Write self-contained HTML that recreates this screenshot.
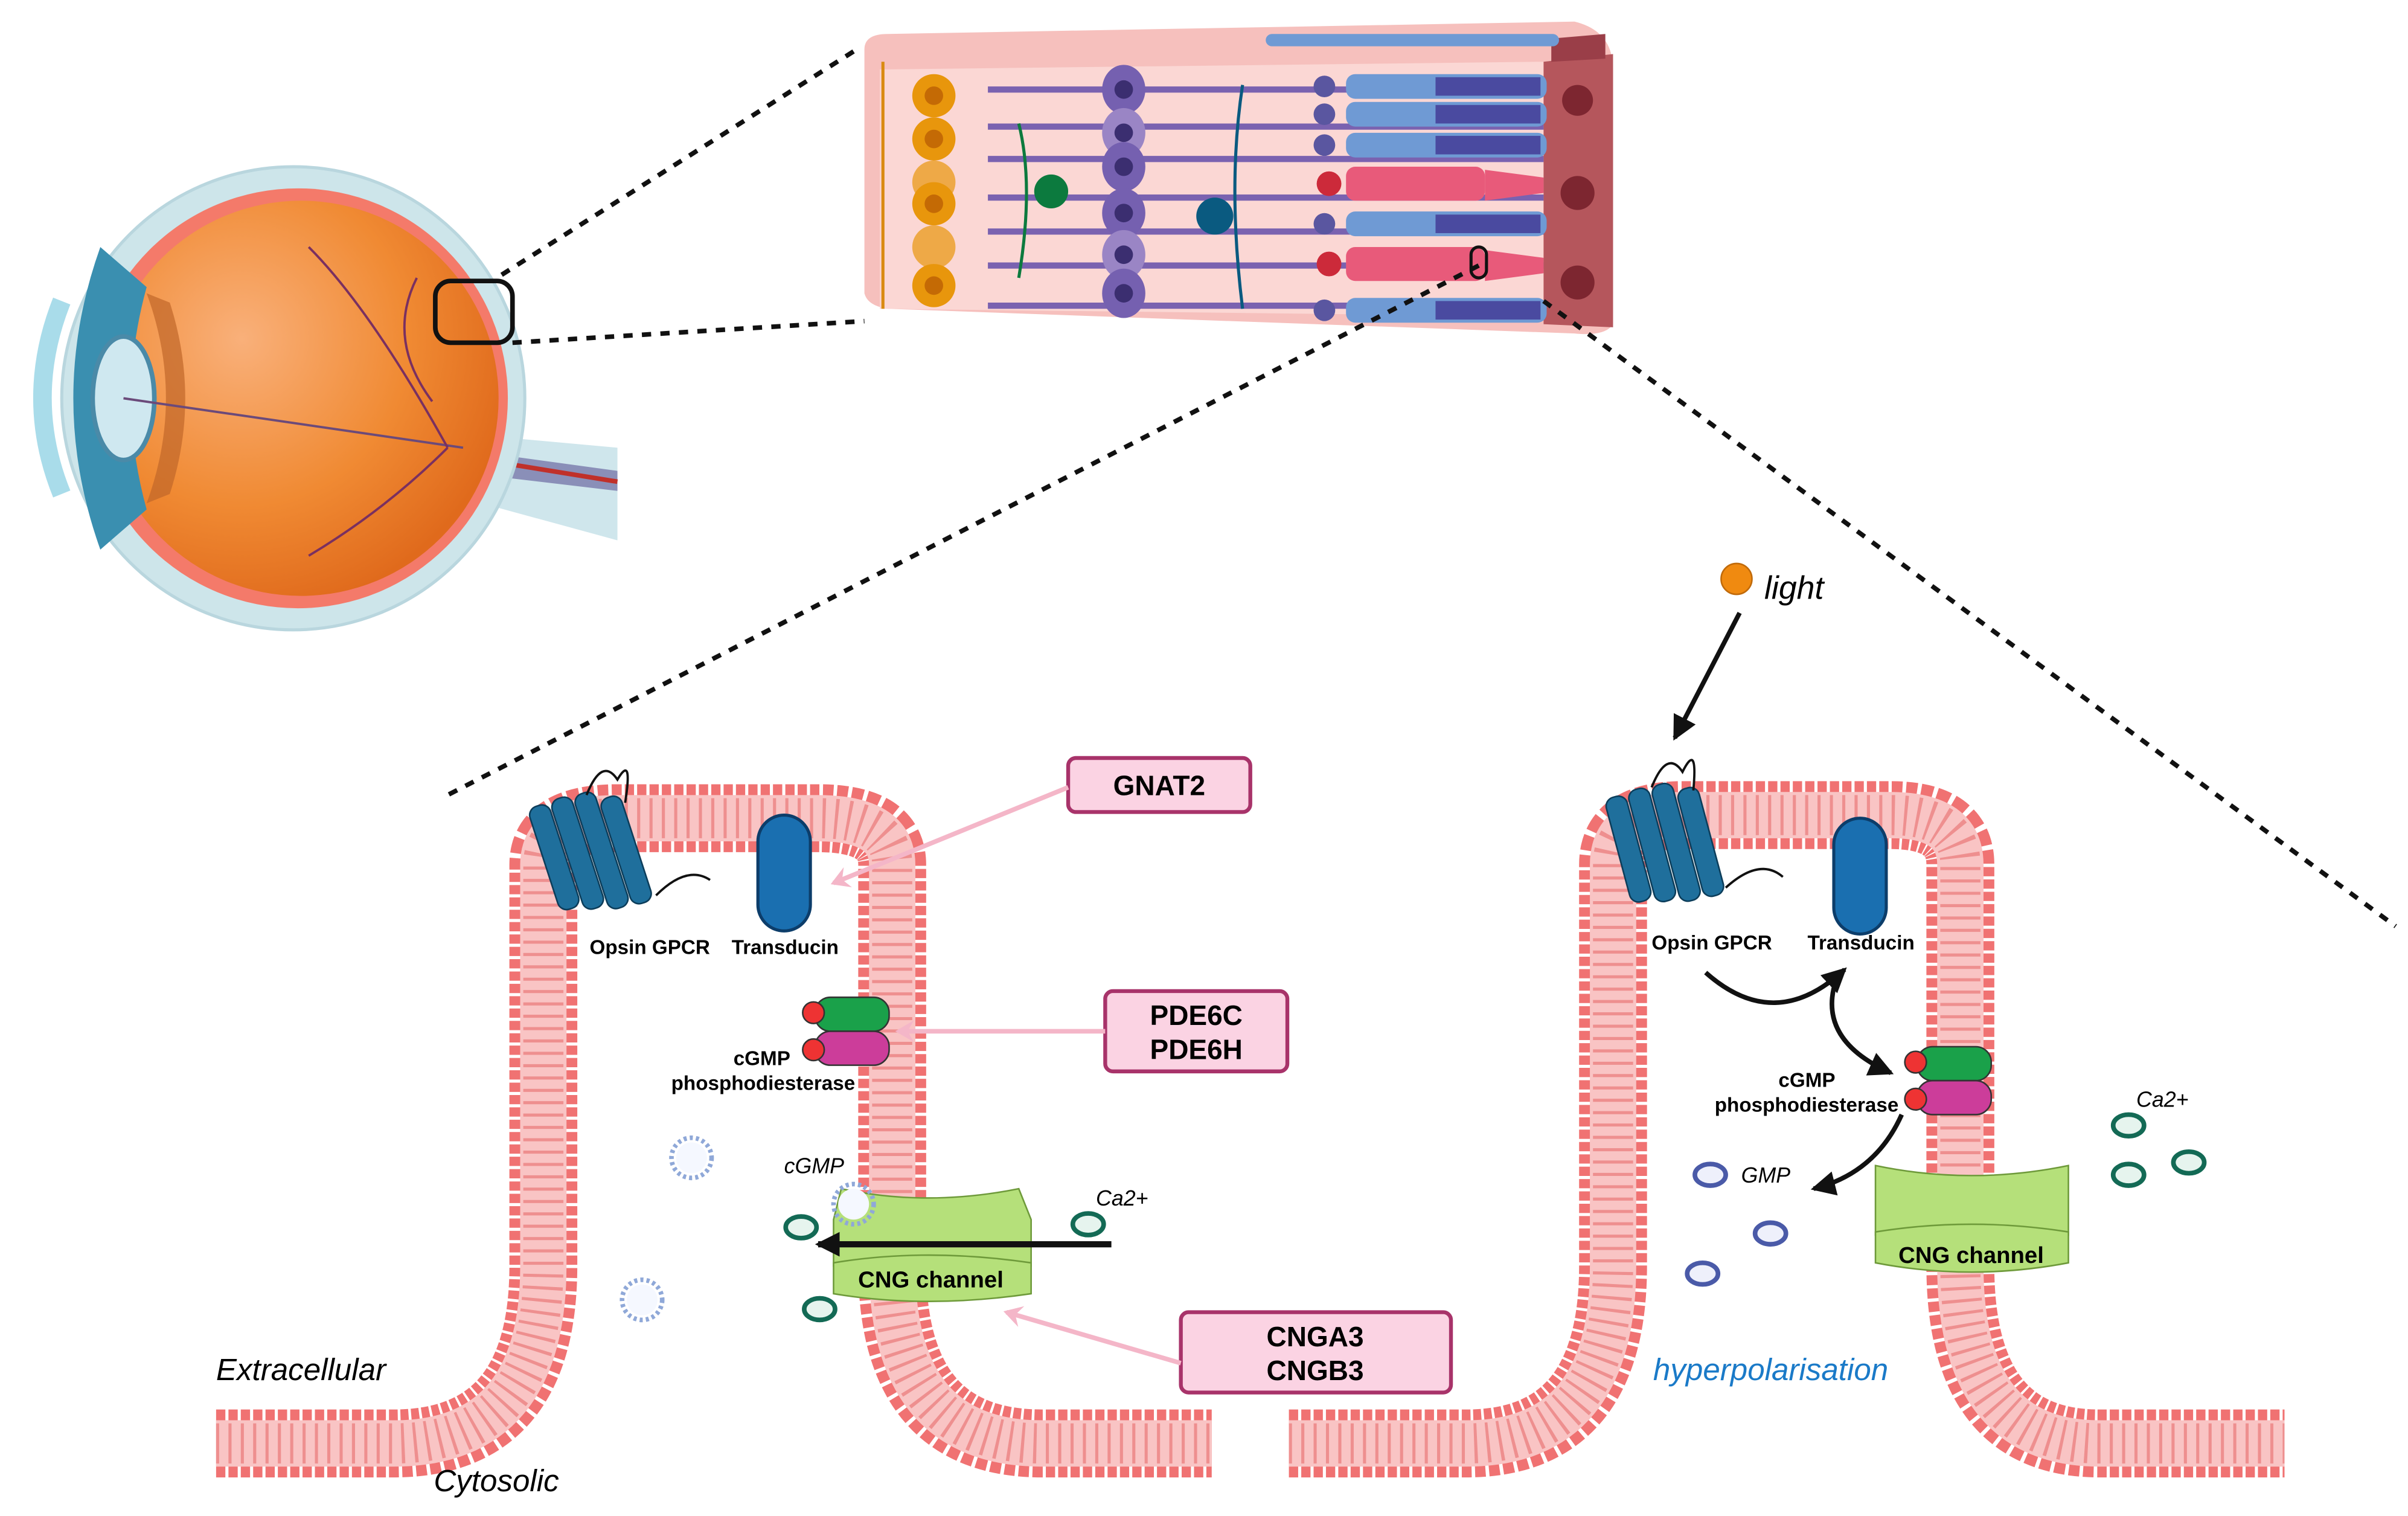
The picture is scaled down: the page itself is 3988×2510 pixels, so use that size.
<!DOCTYPE html>
<html><head><meta charset="utf-8"><style>
html,body{margin:0;padding:0;background:#fff}
svg{display:block}
text{font-family:"Liberation Sans",sans-serif}
</style></head><body>
<svg width="3988" height="2510" viewBox="0 0 1560 982" preserveAspectRatio="none" xmlns="http://www.w3.org/2000/svg">
<defs>
<radialGradient id="og" cx="0.35" cy="0.35" r="0.7"><stop offset="0" stop-color="#f9b07a"/><stop offset="0.6" stop-color="#f08a33"/><stop offset="1" stop-color="#e06a1c"/></radialGradient>
<marker id="ap" markerWidth="14" markerHeight="14" refX="10" refY="7" orient="auto" markerUnits="userSpaceOnUse"><path d="M0,0 L12,7 L0,14 L4,7z" fill="#f4b6c8"/></marker>
<marker id="ab" markerWidth="18" markerHeight="16" refX="14" refY="8" orient="auto" markerUnits="userSpaceOnUse"><path d="M0,0 L16,8 L0,16z" fill="#111"/></marker>
</defs>

<!-- eye -->
<path d="M290,280 L400,290 L400,350 L290,320z" fill="#cfe6ec"/>
<path d="M290,290 L400,305 L400,318 L290,305z" fill="#8a8fb8"/>
<path d="M295,295 L400,312" stroke="#c0302a" stroke-width="3"/>
<circle cx="190" cy="258" r="150" fill="#cde5ea" stroke="#b9d6de" stroke-width="2"/>
<circle cx="193" cy="258" r="136" fill="#f47a6a"/>
<circle cx="195" cy="258" r="128" fill="url(#og)"/>
<path d="M65,160 Q30,258 65,356 L95,330 Q75,258 95,186z" fill="#3a8fb0"/>
<path d="M40,195 Q15,258 40,320" fill="none" stroke="#a9dcea" stroke-width="12"/>
<ellipse cx="80" cy="258" rx="20" ry="40" fill="#cfe8f0" stroke="#4a8aa8" stroke-width="3"/>
<path d="M95,190 Q120,258 95,326 L110,320 Q130,258 110,196z" fill="#c0662a" opacity="0.7"/>
<path d="M80,258 L300,290" stroke="#6b4a7a" stroke-width="1.5"/>
<path d="M290,290 Q240,200 200,160 M290,290 Q250,330 200,360 M280,260 Q250,220 270,180" fill="none" stroke="#7a3060" stroke-width="1.5"/>
<rect x="282" y="182" width="50" height="40" rx="10" fill="none" stroke="#111" stroke-width="3"/>

<!-- retina block -->
<path d="M560,32 Q560,22 575,22 L1020,14 Q1045,20 1045,45 L1045,210 Q1040,218 1020,216 L575,200 Q562,198 560,190z" fill="#f6c0bd"/>
<path d="M570,45 L1000,40 L1000,205 L570,200z" fill="#fbd7d4"/>
<path d="M1000,40 L1045,35 L1045,212 L1000,210z" fill="#b5565c"/>
<circle cx="1022" cy="65" r="10" fill="#7d2630"/><circle cx="1022" cy="125" r="11" fill="#7d2630"/><circle cx="1022" cy="183" r="11" fill="#7d2630"/>
<path d="M1005,25 L1040,22 L1040,38 L1005,40z" fill="#9a3e48"/>
<g fill="#e8960c">
<circle cx="605" cy="62" r="14"/><circle cx="605" cy="90" r="14"/><circle cx="605" cy="118" r="14" opacity="0.7"/><circle cx="605" cy="132" r="14"/><circle cx="605" cy="160" r="14" opacity="0.7"/><circle cx="605" cy="185" r="14"/>
</g>
<g fill="#c46a05"><circle cx="605" cy="62" r="6"/><circle cx="605" cy="90" r="6"/><circle cx="605" cy="132" r="6"/><circle cx="605" cy="185" r="6"/></g>
<path d="M572,40 L572,200" stroke="#d98a10" stroke-width="2"/>
<g stroke="#7a62b0" stroke-width="4" fill="none">
<path d="M640,58 L1000,58"/><path d="M640,82 L1000,82"/><path d="M640,103 L1000,103"/><path d="M640,128 L1000,128"/><path d="M640,150 L1000,150"/><path d="M640,172 L1000,172"/><path d="M640,198 L1000,198"/>
</g>
<g fill="#7560b0"><ellipse cx="728" cy="58" rx="14" ry="16"/><ellipse cx="728" cy="86" rx="14" ry="16" fill="#9a85c5"/><ellipse cx="728" cy="108" rx="14" ry="16"/><ellipse cx="728" cy="138" rx="14" ry="16"/><ellipse cx="728" cy="165" rx="14" ry="16" fill="#9a85c5"/><ellipse cx="728" cy="190" rx="14" ry="16"/></g>
<g fill="#3b2e70"><circle cx="728" cy="58" r="6"/><circle cx="728" cy="86" r="6"/><circle cx="728" cy="108" r="6"/><circle cx="728" cy="138" r="6"/><circle cx="728" cy="165" r="6"/><circle cx="728" cy="190" r="6"/></g>
<circle cx="681" cy="124" r="11" fill="#0c7a3e"/>
<path d="M660,80 Q670,120 660,180" stroke="#0c7a3e" stroke-width="2" fill="none"/>
<circle cx="787" cy="140" r="12" fill="#0a5a80"/>
<path d="M805,55 Q795,120 805,200" stroke="#0a5a80" stroke-width="2" fill="none"/>
<g fill="#6f9ad4">
<rect x="872" y="48" width="130" height="16" rx="6"/><rect x="872" y="66" width="130" height="16" rx="6"/><rect x="872" y="86" width="130" height="16" rx="6"/><rect x="872" y="137" width="130" height="16" rx="6"/><rect x="872" y="193" width="130" height="16" rx="6"/>
<rect x="820" y="22" width="190" height="8" rx="4"/>
</g>
<g fill="#e85a7a"><rect x="872" y="108" width="90" height="22" rx="6"/><rect x="872" y="160" width="90" height="22" rx="6"/><path d="M962,110 L1000,115 L1000,125 L962,130z"/><path d="M962,162 L1000,167 L1000,177 L962,182z"/></g>
<g fill="#5a56a0"><circle cx="858" cy="56" r="7"/><circle cx="858" cy="74" r="7"/><circle cx="858" cy="94" r="7"/><circle cx="858" cy="145" r="7"/><circle cx="858" cy="201" r="7"/></g>
<g fill="#cc2a3a"><circle cx="861" cy="119" r="8"/><circle cx="861" cy="171" r="8"/></g>
<g fill="#4a4aa0"><rect x="930" y="50" width="68" height="12"/><rect x="930" y="68" width="68" height="12"/><rect x="930" y="88" width="68" height="12"/><rect x="930" y="139" width="68" height="12"/><rect x="930" y="195" width="68" height="12"/></g>
<rect x="953" y="160" width="10" height="20" rx="5" fill="none" stroke="#111" stroke-width="2"/>

<!-- dotted zoom lines -->
<g stroke="#111" stroke-width="3" stroke-dasharray="6,6" fill="none">
<path d="M325,178 L555,32"/>
<path d="M332,222 L560,208"/>
<path d="M958,172 L290,515"/>
<path d="M1000,195 L1552,600"/>
</g>

<!-- membranes -->
<g fill="none">
<path id="m1" d="M140,935 L255,935 Q352,935 352,820 L352,560 Q352,530 400,530 L530,530 Q578,530 578,560 L578,820 Q578,935 675,935 L785,935"/>
<path id="m2" d="M835,935 L950,935 Q1045,935 1045,820 L1045,560 Q1045,528 1090,528 L1225,528 Q1270,528 1270,560 L1270,820 Q1270,935 1360,935 L1480,935"/>
</g>
<g fill="none" stroke-linejoin="round">
<use href="#m1" stroke="#f07272" stroke-width="44" stroke-dasharray="6,2"/>
<use href="#m1" stroke="#f9c4c4" stroke-width="30"/>
<use href="#m1" stroke="#ee8f8f" stroke-width="26" stroke-dasharray="2,6"/>
<use href="#m2" stroke="#f07272" stroke-width="44" stroke-dasharray="6,2"/>
<use href="#m2" stroke="#f9c4c4" stroke-width="30"/>
<use href="#m2" stroke="#ee8f8f" stroke-width="26" stroke-dasharray="2,6"/>
</g>

<!-- left proteins -->
<g fill="#1f6f9c" stroke="#0c3d5a" stroke-width="1">
<rect x="352" y="520" width="14" height="70" rx="6" transform="rotate(-18 360 555)"/>
<rect x="368" y="515" width="14" height="75" rx="6" transform="rotate(-18 375 555)"/>
<rect x="384" y="512" width="14" height="78" rx="6" transform="rotate(-18 390 555)"/>
<rect x="400" y="515" width="14" height="72" rx="6" transform="rotate(-18 405 555)"/>
</g>
<path d="M380,515 Q390,490 400,505 Q410,488 405,520" stroke="#111" fill="none" stroke-width="1.5"/>
<path d="M425,580 Q445,560 460,570" stroke="#111" fill="none" stroke-width="1.5"/>
<rect x="491" y="528" width="34" height="75" rx="17" fill="#1a6fb0" stroke="#0c3d6a" stroke-width="2"/>
<text x="382" y="618" font-size="13" font-weight="bold">Opsin GPCR</text>
<text x="474" y="618" font-size="13" font-weight="bold">Transducin</text>
<rect x="528" y="646" width="48" height="22" rx="10" fill="#1aa14a" stroke="#333"/>
<rect x="528" y="668" width="48" height="22" rx="10" fill="#cc3d9a" stroke="#333"/>
<circle cx="527" cy="656" r="7" fill="#e33" stroke="#333"/><circle cx="527" cy="680" r="7" fill="#e33" stroke="#333"/>
<text x="512" y="690" font-size="13" font-weight="bold" text-anchor="end">cGMP</text>
<text x="554" y="706" font-size="13" font-weight="bold" text-anchor="end">phosphodiesterase</text>
<path d="M545,770 Q600,782 660,770 L668,790 L668,820 Q600,810 540,820 L540,790z" fill="#b5e07a" stroke="#6e9a3a"/>
<path d="M540,818 Q600,808 668,818 L668,838 Q600,848 540,838z" fill="#b5e07a" stroke="#6e9a3a"/>
<text x="603" y="834" font-size="15" font-weight="bold" text-anchor="middle">CNG channel</text>
<path d="M720,806 L530,806" stroke="#111" stroke-width="4" marker-end="url(#ab)"/>
<g fill="none" stroke="#8fa8d8" stroke-width="3" stroke-dasharray="2,2"><circle cx="448" cy="750" r="13"/><circle cx="416" cy="842" r="13"/><circle cx="553" cy="780" r="13"/></g>
<g fill="#f5f8ff" ><circle cx="448" cy="750" r="10"/><circle cx="416" cy="842" r="10"/><circle cx="553" cy="780" r="10"/></g>
<text x="508" y="760" font-size="14" font-style="italic">cGMP</text>
<text x="710" y="781" font-size="14" font-style="italic">Ca2+</text>
<g fill="#e6f4ee" stroke="#136a55" stroke-width="3"><ellipse cx="519" cy="795" rx="10" ry="7"/><ellipse cx="705" cy="793" rx="10" ry="7"/><ellipse cx="531" cy="848" rx="10" ry="7"/></g>

<!-- boxes -->
<g fill="#fbd3e3" stroke="#a8336a" stroke-width="2.5">
<rect x="692" y="491" width="118" height="35" rx="5"/>
<rect x="716" y="642" width="118" height="52" rx="5"/>
<rect x="765" y="850" width="175" height="52" rx="5"/>
</g>
<g font-size="18" font-weight="bold" text-anchor="middle">
<text x="751" y="515">GNAT2</text>
<text x="775" y="664">PDE6C</text><text x="775" y="686">PDE6H</text>
<text x="852" y="872">CNGA3</text><text x="852" y="894">CNGB3</text>
</g>
<g stroke="#f4b6c8" stroke-width="3" fill="none">
<path d="M692,510 L540,572" marker-end="url(#ap)"/>
<path d="M716,668 L582,668" marker-end="url(#ap)"/>
<path d="M765,883 L652,850" marker-end="url(#ap)"/>
</g>
<text x="140" y="894" font-size="20" font-style="italic">Extracellular</text>
<text x="281" y="966" font-size="20" font-style="italic">Cytosolic</text>

<!-- right -->
<circle cx="1125" cy="375" r="10" fill="#f08a10" stroke="#c06a0a"/>
<text x="1143" y="388" font-size="21" font-style="italic">light</text>
<path d="M1127,397 L1085,478" stroke="#111" stroke-width="3" marker-end="url(#ab)"/>
<g fill="#1f6f9c" stroke="#0c3d5a" stroke-width="1">
<rect x="1048" y="515" width="14" height="70" rx="6" transform="rotate(-15 1055 550)"/>
<rect x="1064" y="510" width="14" height="75" rx="6" transform="rotate(-15 1070 550)"/>
<rect x="1080" y="507" width="14" height="78" rx="6" transform="rotate(-15 1085 550)"/>
<rect x="1096" y="510" width="14" height="72" rx="6" transform="rotate(-15 1100 550)"/>
</g>
<path d="M1070,510 Q1080,485 1090,500 Q1100,480 1097,512" stroke="#111" fill="none" stroke-width="1.5"/>
<path d="M1118,575 Q1140,555 1155,568" stroke="#111" fill="none" stroke-width="1.5"/>
<rect x="1188" y="530" width="34" height="75" rx="17" fill="#1a6fb0" stroke="#0c3d6a" stroke-width="2"/>
<text x="1070" y="615" font-size="13" font-weight="bold">Opsin GPCR</text>
<text x="1171" y="615" font-size="13" font-weight="bold">Transducin</text>
<path d="M1105,630 Q1150,670 1195,628" stroke="#111" stroke-width="3" fill="none" marker-end="url(#ab)"/>
<path d="M1188,640 Q1180,675 1225,695" stroke="#111" stroke-width="3" fill="none" marker-end="url(#ab)"/>
<rect x="1242" y="678" width="48" height="22" rx="10" fill="#1aa14a" stroke="#333"/>
<rect x="1242" y="700" width="48" height="22" rx="10" fill="#cc3d9a" stroke="#333"/>
<circle cx="1241" cy="688" r="7" fill="#e33" stroke="#333"/><circle cx="1241" cy="712" r="7" fill="#e33" stroke="#333"/>
<text x="1189" y="704" font-size="13" font-weight="bold" text-anchor="end">cGMP</text>
<text x="1230" y="720" font-size="13" font-weight="bold" text-anchor="end">phosphodiesterase</text>
<path d="M1232,722 Q1215,760 1175,770" stroke="#111" stroke-width="3" fill="none" marker-end="url(#ab)"/>
<path d="M1215,755 Q1277,768 1340,755 L1340,800 Q1277,790 1215,800z" fill="#b5e07a" stroke="#6e9a3a"/>
<path d="M1215,798 Q1277,788 1340,798 L1340,818 Q1277,830 1215,818z" fill="#b5e07a" stroke="#6e9a3a"/>
<text x="1277" y="818" font-size="15" font-weight="bold" text-anchor="middle">CNG channel</text>
<text x="1128" y="766" font-size="14" font-style="italic">GMP</text>
<text x="1384" y="717" font-size="14" font-style="italic">Ca2+</text>
<g fill="#eef0fb" stroke="#4a5aa8" stroke-width="3"><ellipse cx="1108" cy="761" rx="10" ry="7"/><ellipse cx="1147" cy="799" rx="10" ry="7"/><ellipse cx="1103" cy="825" rx="10" ry="7"/></g>
<g fill="#e6f4ee" stroke="#136a55" stroke-width="3"><ellipse cx="1379" cy="729" rx="10" ry="7"/><ellipse cx="1379" cy="761" rx="10" ry="7"/><ellipse cx="1418" cy="753" rx="10" ry="7"/></g>
<text x="1071" y="894" font-size="20" font-style="italic" fill="#1a7ac8">hyperpolarisation</text>
</svg>
</body></html>
